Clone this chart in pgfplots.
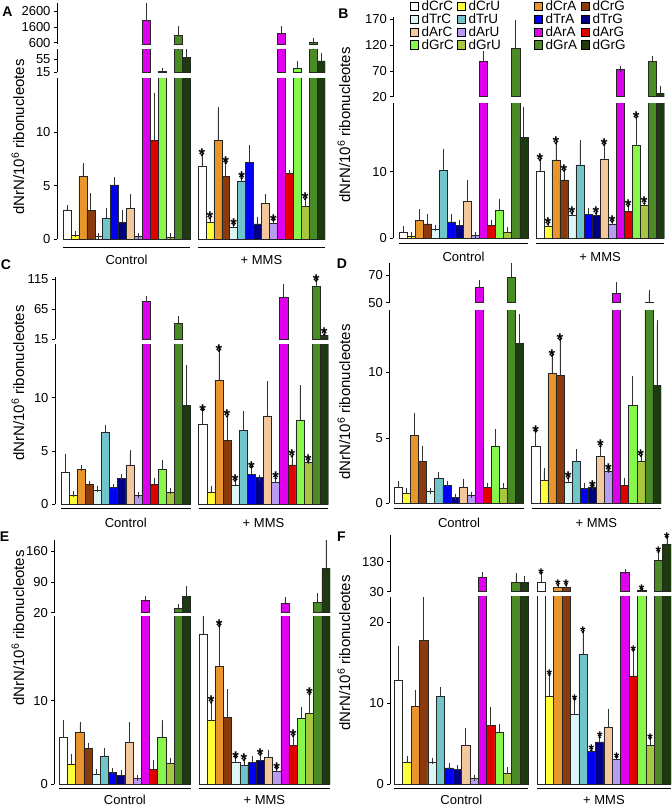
\documentclass[border=0pt]{standalone}
\usepackage{fontspec}
\setmainfont{Liberation Sans}
\usepackage{pgfplots}
\usepackage{pgfplotstable}
\pgfplotsset{compat=1.18}

\definecolor{c0}{HTML}{FFFFFF}
\definecolor{c1}{HTML}{FFFF3A}
\definecolor{c2}{HTML}{E8952C}
\definecolor{c3}{HTML}{8A3A0C}
\definecolor{c4}{HTML}{DDF7F7}
\definecolor{c5}{HTML}{6FC5C9}
\definecolor{c6}{HTML}{0000F5}
\definecolor{c7}{HTML}{000085}
\definecolor{c8}{HTML}{F3C89C}
\definecolor{c9}{HTML}{B79CF2}
\definecolor{c10}{HTML}{E000F0}
\definecolor{c11}{HTML}{E00000}
\definecolor{c12}{HTML}{86F84C}
\definecolor{c13}{HTML}{A9C73E}
\definecolor{c14}{HTML}{4A8B26}
\definecolor{c15}{HTML}{1D3A10}

% columns: x position, value, error, colour index, significance star
\pgfplotstableread{
x y e k s
0 2.7 0.25 0 0
1 0.35 0.1 1 0
2 5.86 1.0 2 0
3 2.7 1.3 3 0
4 0.25 0.05 4 0
5 1.96 0.7 5 0
6 5.08 0.4 6 0
7 1.56 0.9 7 0
8 2.9 1.0 8 0
9 0.25 0.05 9 0
10 2000 950 10 0
11 9.19 4.2 11 0
12 17 2 12 0
13 0.2 0.15 13 0
14 1050 420 14 0
15 60 20 15 0
17 6.76 1.1 0 1
18 1.56 0.4 1 1
19 9.19 2.9 2 0
20 5.86 1.25 3 1
21 1.09 0.25 4 1
22 5.45 0.25 5 1
23 7.17 1.35 6 0
24 1.43 0.37 7 0
25 3.36 0.62 8 0
26 1.5 0.25 9 1
27 1200 270 10 0
28 6.17 0 11 0
29 27 14 12 0
30 3.05 0.7 13 1
31 620 100 14 0
32 50 16 15 0
}\tA

\pgfplotstableread{
x y e k s
0 0.9 0.45 0 0
1 0.35 0.1 1 0
2 2.65 1.25 2 0
3 2.15 1.0 3 0
4 1.35 0.25 4 0
5 10.2 2.8 5 0
6 2.45 0.7 6 0
7 1.9 0.35 7 0
8 5.6 2.75 8 0
9 0.4 0.08 9 0
10 88 14 10 0
11 1.95 0.4 11 0
12 4.2 1.3 12 0
13 0.9 0.35 13 0
14 113 50 14 0
15 15.15 4.1 15 0
17 10.0 1.75 0 1
18 1.75 0.4 1 1
19 11.75 2.5 2 1
20 8.75 1.4 3 1
21 3.5 0.25 4 1
22 11.0 3.25 5 0
23 3.6 0.5 6 0
24 3.4 0.35 7 1
25 11.9 2.1 8 1
26 2.15 0.35 9 1
27 73 1.5 10 0
28 4.05 0.8 11 1
29 13.9 4.2 12 1
30 5.0 0.25 13 1
31 88 4.5 14 0
32 26.5 8.5 15 0
}\tB

\pgfplotstableread{
x y e k s
0 3.0 1.45 0 0
1 0.85 0.1 1 0
2 3.3 0.15 2 0
3 1.85 0.1 3 0
4 1.35 0.1 4 0
5 6.75 0.45 5 0
6 1.56 0.05 6 0
7 2.44 0.15 7 0
8 3.7 1.1 8 0
9 0.85 0.05 9 0
10 78 4 10 0
11 1.9 0.3 11 0
12 3.3 0.6 12 0
13 1.12 0.15 13 0
14 41.7 6.7 14 0
15 9.25 3.5 15 0
17 7.5 1.3 0 1
18 1.12 0.35 1 0
19 11.6 2.8 2 1
20 6.0 2.25 3 1
21 1.8 0.4 4 1
22 6.9 1.55 5 0
23 2.8 0.65 6 1
24 2.5 0 7 0
25 8.3 2.95 8 0
26 2.03 0.4 9 1
27 85 18 10 0
28 3.7 0.8 11 1
29 7.9 3.0 12 0
30 3.94 0.1 13 1
31 102.8 10 14 1
32 22.2 1 15 1
}\tC

\pgfplotstableread{
x y e k s
0 1.22 0.28 0 0
1 0.76 0.15 1 0
2 5.2 1.5 2 0
3 3.18 1.0 3 0
4 0.92 0.03 4 0
5 1.9 0.25 5 0
6 1.35 0.12 6 0
7 0.46 0 7 0
8 1.2 0.45 8 0
9 0.64 0.03 9 0
10 61 3.6 10 0
11 1.2 0.15 11 0
12 4.38 1.05 12 0
13 1.12 0.2 13 0
14 68.5 10 14 0
15 12.2 2.0 15 0
17 4.38 1.1 0 1
18 1.78 0.7 1 0
19 9.92 1.35 2 1
20 9.75 2.75 3 1
21 1.58 0.33 4 1
22 3.18 0.7 5 0
23 1.15 0.2 6 0
24 1.25 0.03 7 1
25 3.56 0.8 8 1
26 2.44 0.1 9 1
27 56.8 6 10 0
28 1.37 0.35 11 0
29 7.5 2.0 12 0
30 3.18 0.45 13 1
31 50.3 7 14 0
32 9.03 4.7 15 0
}\tD

\pgfplotstableread{
x y e k s
0 5.6 1.7 0 0
1 2.4 0.9 1 0
2 6.24 0.9 2 0
3 4.32 0.25 3 0
4 1.16 0.25 4 0
5 3.28 0.7 5 0
6 1.44 0.1 6 0
7 1.0 0.28 7 0
8 4.96 2.1 8 0
9 0.68 0.05 9 0
10 47.4 5 10 0
11 1.76 0.8 11 0
12 5.6 1.7 12 0
13 2.48 0.3 13 0
14 30 3.5 14 0
15 57.8 17 15 0
17 17.96 2.9 0 0
18 7.6 2.2 1 1
19 14.16 4.8 2 1
20 8.0 3.0 3 0
21 2.56 0.6 4 1
22 2.28 0.6 5 1
23 2.56 0.5 6 0
24 2.8 0.7 7 1
25 3.16 0.6 8 0
26 1.52 0.32 9 1
27 41.3 7.6 10 0
28 4.6 1.16 11 1
29 7.88 1.0 12 0
30 8.48 2.3 13 1
31 43.6 15 14 0
32 121 65 15 0
}\tE

\pgfplotstableread{
x y e k s
0 12.8 3.8 0 0
1 2.63 0.5 1 0
2 9.53 1.75 2 0
3 17.74 4.9 3 0
4 2.63 0.25 4 0
5 10.84 0.75 5 0
6 2.0 0.2 6 0
7 1.8 0.15 7 0
8 4.72 1.8 8 0
9 0.74 0.05 9 0
10 77.8 7 10 0
11 7.27 1.85 11 0
12 6.4 0.65 12 0
13 1.31 0.4 13 0
14 61 22 14 0
15 61 13 15 0
17 61 30 0 1
18 10.84 2.6 1 1
19 44.4 8 2 1
20 44.4 8 3 1
21 8.62 1.8 4 1
22 16.0 2.75 5 1
23 4.02 0.15 6 1
24 5.2 0.55 7 1
25 6.94 2.0 8 0
26 3.08 0.2 9 1
27 93.3 2 10 0
28 13.35 3.1 11 1
29 35.6 2 12 1
30 4.8 0.8 13 1
31 135.6 27 14 1
32 189 22 15 1
}\tF

\newcommand\tickfont{\fontsize{13}{14}\selectfont}
\newcommand\grpfont{\fontsize{13}{14}\selectfont}
\newcommand\lgd[2][32pt]{\makebox[#1][l]{\fontsize{13.5}{14}\selectfont #2}}
\def\starfs{17}\def\starsh{-5.6}

\pgfplotsset{
  seg/.style={scale only axis, anchor=south west, xmax=32.5,
    axis y line*=left, axis x line=none,
    axis line style={black, line width=0.6pt},
    tick align=outside, major tick length=3pt,
    ytick style={black, line width=0.6pt},
    yticklabel style={font=\tickfont},
    /pgf/number format/1000 sep={},
    /pgf/number format/assume math mode=true},
  bar/.style={ybar, bar width=1, bar shift=0pt, draw=black!85, line width=0.5pt,
    /pgfplots/error bars/y dir=plus,
    /pgfplots/error bars/y explicit,
    /pgfplots/error bars/error bar style={black!80, line width=0.6pt},
    /pgfplots/error bars/error mark=-,
    /pgfplots/error bars/error mark options={black!80, line width=0.6pt, mark size=3pt}},
  star/.style={only marks, mark=*, mark size=1pt, mark options={draw=none, fill=none},
    nodes near coords={\textbf{*}},
    every node near coord/.style={anchor=base, yshift=\starsh pt, inner sep=0pt,
      font=\fontsize{\starfs}{\starfs}\selectfont, text=black}},
  lgdax/.style={scale only axis, hide axis, anchor=south west, at={(0pt,-806pt)},
    width=672pt, height=806pt, xmin=0, xmax=1, ymin=0, ymax=1,
    legend columns=2, legend cell align=left,
    legend image code/.code={\draw[##1, draw=black, line width=0.5pt] (0pt,-4.25pt) rectangle (8.5pt,4.25pt);},
    legend style={at={(#1,1)}, anchor=north west, draw=none, fill=none,
      row sep=0.6pt, column sep=2.5pt, inner sep=0pt, nodes={inner sep=0.5pt}}},
}

% #1 table, #2 axis x, #3 bottom y, #4 top y, #5 ymin, #6 ymax, #7 ticks, #8 extra
\newcommand\seg[8]{%
  \pgfmathsetmacro\hh{#3-#4}%
  \pgfmathsetmacro\cap{#6+0.1*(#6-#5)}%
  \begin{axis}[seg, at={(#2pt,-#3pt)}, width=\pw pt, height=\hh pt,
      xmin=\xmn, ymin=#5, ymax=#6, ytick={#7}, #8]
    \pgfplotsinvokeforeach{0,...,15}{%
      \addplot[bar, fill=c##1,
        restrict expr to domain={ifthenelse(\thisrow{y}>=#5,\thisrow{k},-1)}{##1:##1}]
        table[x=x, y expr={min(\thisrow{y},\cap)},
          y error expr={min(\thisrow{y}+\thisrow{e},\cap)-min(\thisrow{y},\cap)}]{#1};}
  \end{axis}
  \begin{axis}[seg, hide axis, clip=false, at={(#2pt,-#3pt)}, width=\pw pt, height=\hh pt,
      xmin=\xmn, ymin=#5, ymax=#6]
    \addplot[star] table[x=x, y expr={min(\thisrow{y}+\thisrow{e},\cap)},
      restrict expr to domain={ifthenelse(\thisrow{s}>0,\thisrow{y}+\thisrow{e},-99999)}{#5:#6}]{#1};
  \end{axis}}

% #1 axis x, #2 bottom y, #3 line offset, #4 label offset
\newcommand\grp[4]{%
  \begin{axis}[seg, hide axis, clip=false, at={(#1pt,-#2pt)}, width=\pw pt, height=10pt,
      xmin=\xmn, ymin=0, ymax=1]
    \draw[black, line width=0.8pt] ([yshift=-#3pt]axis cs:-0.5,0) -- ([yshift=-#3pt]axis cs:15.5,0);
    \draw[black, line width=0.8pt] ([yshift=-#3pt]axis cs:16.5,0) -- ([yshift=-#3pt]axis cs:32.5,0);
    \node[font=\grpfont] at ([yshift=-#4pt]axis cs:7.5,0) {Control};
    \node[font=\grpfont] at ([yshift=-#4pt]axis cs:24.5,0) {+ MMS};
  \end{axis}}

\newcommand\ylab[2]{\node[rotate=90, font=\fontsize{15}{16}\selectfont] at (#1pt,-#2pt) {dNrN/10\textsuperscript{6} ribonucleotes};}
\newcommand\plet[3]{\node[font=\bfseries\fontsize{14}{14}\selectfont] at (#1pt,-#2pt) {#3};}

\begin{document}
\begin{tikzpicture}
\path[use as bounding box] (0pt,0pt) rectangle (672pt,-806pt);

% ---------- A ----------
\def\pw{268}\def\xmn{-1.256}
\seg{\tA}{57}{239.3}{78.3}{0}{15}{0,5,10}{}
\seg{\tA}{57}{72.3}{49.3}{15}{85}{15,55}{}
\seg{\tA}{57}{44.3}{3.3}{500}{3100}{600,1600,2600}{}
\grp{57}{239.3}{8}{20.7}
\ylab{18}{137}
\plet{7.5}{12}{A}

% ---------- B ----------
\def\pw{271}\def\xmn{-1.247}
\seg{\tB}{393.3}{238.3}{103.3}{0}{20.25}{0,10}{}
\seg{\tB}{393.3}{96.7}{16.7}{20}{175}{20,70,120,170}{}
\grp{393.3}{238.3}{5}{18.4}
\ylab{344}{125}
\plet{343.5}{13.3}{B}

% legend (two blocks of two columns)
\begin{axis}[lgdax=0.6094]
  \addlegendimage{fill=c0}\addlegendentry{\lgd{dCrC}}
  \addlegendimage{fill=c1}\addlegendentry{\lgd{dCrU}}
  \addlegendimage{fill=c4}\addlegendentry{\lgd{dTrC}}
  \addlegendimage{fill=c5}\addlegendentry{\lgd{dTrU}}
  \addlegendimage{fill=c8}\addlegendentry{\lgd{dArC}}
  \addlegendimage{fill=c9}\addlegendentry{\lgd{dArU}}
  \addlegendimage{fill=c12}\addlegendentry{\lgd{dGrC}}
  \addlegendimage{fill=c13}\addlegendentry{\lgd{dGrU}}
\end{axis}
\begin{axis}[lgdax=0.7939]
  \addlegendimage{fill=c2}\addlegendentry{\lgd{dCrA}}
  \addlegendimage{fill=c3}\addlegendentry{\lgd{dCrG}}
  \addlegendimage{fill=c6}\addlegendentry{\lgd{dTrA}}
  \addlegendimage{fill=c7}\addlegendentry{\lgd{dTrG}}
  \addlegendimage{fill=c10}\addlegendentry{\lgd{dArA}}
  \addlegendimage{fill=c11}\addlegendentry{\lgd{dArG}}
  \addlegendimage{fill=c14}\addlegendentry{\lgd{dGrA}}
  \addlegendimage{fill=c15}\addlegendentry{\lgd{dGrG}}
\end{axis}

% ---------- C ----------
\def\pw{273.3}\def\xmn{-1.24}
\seg{\tC}{55}{504.3}{344.3}{0}{15}{0,5,10}{}
\seg{\tC}{55}{339.3}{276.7}{15}{119.4}{15,65,115}{}
\grp{55}{504.3}{4}{19}
\ylab{18}{383}
\plet{6}{265}{C}

% ---------- D ----------
\def\pw{271.7}\def\xmn{-1.12}
\seg{\tD}{389.3}{503.3}{310}{0}{14.76}{0,5,10}{}
\seg{\tD}{389.3}{302.7}{263.3}{50}{78.8}{50,70}{}
\grp{389.3}{503.3}{5}{19.7}
\ylab{344}{402}
\plet{342}{264}{D}

% ---------- E ----------
\def\pw{275.7}\def\xmn{-1.11}
\seg{\tE}{54.3}{784}{616}{0}{20.16}{0,10}{}
\seg{\tE}{54.3}{612.7}{540}{20}{186}{20,90,160}{}
\grp{54.3}{784}{4.3}{15.8}
\ylab{18}{628}
\plet{4.5}{537}{E}

% ---------- F ----------
\def\starfs{14}\def\starsh{-4.6}
\def\pw{280.7}\def\xmn{-0.98}
\seg{\tF}{390.3}{784}{596.7}{0}{23.1}{0,10,20}{}
\seg{\tF}{390.3}{591.7}{535}{30}{219}{30,130}{}
\grp{390.3}{784}{4.3}{15.8}
\ylab{344}{653}
\plet{341.5}{537}{F}
\end{tikzpicture}
\end{document}
